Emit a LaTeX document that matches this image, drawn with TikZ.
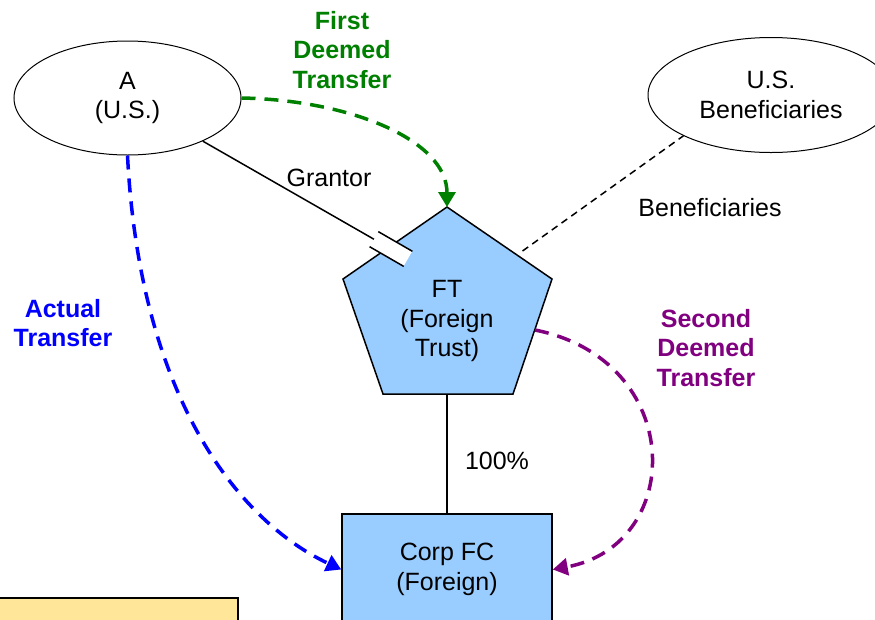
\documentclass[tikz,border=0pt]{standalone}
\usepackage{fontspec}
\setmainfont{Liberation Sans}
\usepackage{tikz}
\usetikzlibrary{positioning,arrows.meta,shapes,calc}
\definecolor{palBlue}{HTML}{0000FF}
\definecolor{palGreen}{HTML}{008000}
\definecolor{palPurple}{HTML}{800080}
\definecolor{palSky}{HTML}{99CCFF}
\definecolor{palNote}{HTML}{FFE699}
\newcommand{\diagfont}{\fontsize{25}{29.5}\selectfont}
\tikzset{
  partynode/.style={draw, ellipse, line width=1pt, inner sep=0pt,
                    minimum width=227pt, minimum height=114pt, align=center},
  entnode/.style={draw, line width=1.5pt, fill=palSky, inner sep=0pt,
                  align=center},
  notebox/.style={draw, line width=1.5pt, fill=palNote, inner sep=0pt},
  txtlbl/.style={align=center, inner sep=0pt},
  xferlbl/.style={txtlbl, font=\diagfont\bfseries},
  linkline/.style={line width=1.5pt},
  benline/.style={line width=1.5pt, dash pattern=on 7pt off 5pt},
  brkmark/.style={fill=white, inner sep=0pt, minimum width=39pt,
                  minimum height=17pt},
  xferarrow/.style={line width=3.5pt, dash pattern=on 14pt off 9pt,
                    -{Triangle[length=15pt, width=17pt]}},
}
\begin{document}
\begin{tikzpicture}[x=1pt, y=-1pt, font=\diagfont]
\useasboundingbox (0,0) rectangle (875,619);
\clip (0,0) rectangle (875,619);
%% Parties
\node[partynode] (A) at (127.5,98) {A\\(U.S.)};
\node[partynode, minimum width=246pt, minimum height=115pt] (Ben) at (771,95)
  {U.S.\\Beneficiaries};
%% Foreign trust (pentagon)
\coordinate (FT-top) at (447,207);
\coordinate (FT-bot) at (447,394);
\coordinate (FT-rgt) at (535,330);
\filldraw[linkline, fill=palSky] (FT-top) -- (552,279) -- (513,394)
  -- (383,394) -- (343,279) -- cycle;
\node[txtlbl] (FT) at (447,321) {FT\\(Foreign\\Trust)};
%% Foreign corporation
\node[entnode, minimum width=210pt, minimum height=111pt] (CFC) at (447,569.5)
  {Corp FC\\(Foreign)};
\node[notebox, anchor=north west, minimum width=243pt, minimum height=60pt]
  (note) at (-6,597) {};
%% Edges
\coordinate (gmark) at (391,249);
\draw[linkline] (A) -- (gmark);
\node[brkmark, rotate=-30] (brk) at (gmark) {};
\draw[linkline] (brk.north west) -- (brk.north east)
                (brk.south west) -- (brk.south east);
\draw[linkline] (FT-bot) -- (CFC.north);
\coordinate (benend) at (522.5,251);
\draw[benline] (benend) -- (Ben.205);
%% Transfers
\draw[xferarrow, palGreen] (A.east) .. controls (350,100) and (447,140) .. (FT-top);
\draw[xferarrow, palBlue] (A.south) .. controls (140,400) and (240,522) .. (CFC.west);
\draw[xferarrow, palPurple] (FT-rgt) .. controls (686,360) and (686,545) .. (CFC.east);
%% Labels
\node[txtlbl] (grantlbl) at (329,178) {Grantor};
\node[txtlbl] (benlbl) at (710,208) {Beneficiaries};
\node[txtlbl] (pctlbl) at (497,461) {100\%};
\node[xferlbl, text=palGreen] (firstlbl) at (342,50) {First\\Deemed\\Transfer};
\node[xferlbl, text=palBlue] (actlbl) at (63,323) {Actual\\Transfer};
\node[xferlbl, text=palPurple] (secondlbl) at (706,348) {Second\\Deemed\\Transfer};
\end{tikzpicture}
\end{document}
